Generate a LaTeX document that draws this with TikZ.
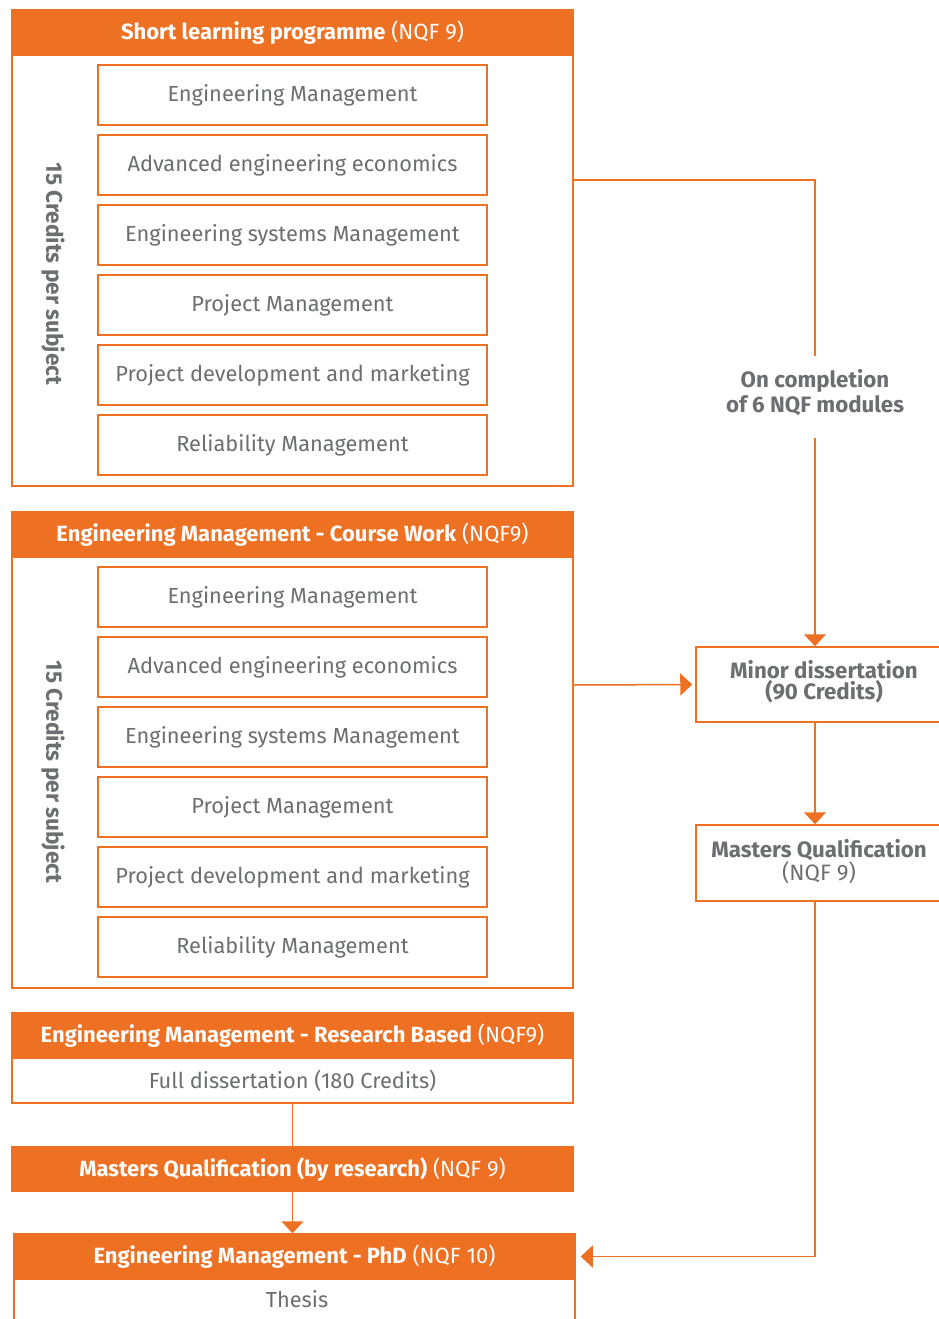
\documentclass[tikz,border=0pt]{standalone}
\usepackage{fontspec}
\setmainfont{Fira Sans}
\usetikzlibrary{arrows.meta}
\definecolor{orng}{HTML}{EE7023}
\definecolor{tgray}{HTML}{6D6E71}
\begin{document}
\begin{tikzpicture}[x=1pt,y=-1pt,
  frame/.style={draw=orng,line width=1.5pt,minimum width=561pt,inner sep=0pt},
  hdr/.style={fill=orng,draw=orng,line width=1.5pt,minimum width=561pt,minimum height=45pt,inner sep=0pt,text=white,font=\fontsize{22}{25}\selectfont},
  sub/.style={draw=orng,line width=1.5pt,minimum width=389pt,minimum height=60pt,inner sep=0pt,text=tgray,font=\fontsize{21.8}{25}\selectfont},
  plain/.style={text=tgray,font=\fontsize{21.8}{25}\selectfont,inner sep=0pt},
  side/.style={text=tgray,font=\bfseries\fontsize{22.3}{21}\selectfont,align=center,inner sep=0pt},
  rot/.style={text=tgray,font=\bfseries\fontsize{22.6}{25}\selectfont,rotate=-90,inner sep=0pt},
  rbox/.style={draw=orng,line width=1.5pt,minimum width=284pt,inner sep=0pt},
  conn/.style={draw=orng,line width=1.5pt},
  arr/.style={conn,-{Triangle[width=22pt,length=12pt]}}]
\useasboundingbox[fill=white] (0,0) rectangle (938,1319);

% --- block 1
\node[frame,minimum height=476pt] (f1) at (292.5,248) {};
\node[hdr] (h1) at (292.5,32.5) {{\bfseries Short learning programme} (NQF 9)};
\node[sub] (a1) at (292.5,95)  {Engineering Management};
\node[sub] (a2) at (292.5,165) {Advanced engineering economics};
\node[sub] (a3) at (292.5,235) {Engineering systems Management};
\node[sub] (a4) at (292.5,305) {Project Management};
\node[sub] (a5) at (292.5,375) {Project development and marketing};
\node[sub] (a6) at (292.5,445) {Reliability Management};
\node[rot] (r1) at (53,274) {15 Credits per subject};

% --- block 2
\node[frame,minimum height=476pt] (f2) at (292.5,750) {};
\node[hdr] (h2) at (292.5,534.5) {{\bfseries Engineering Management - Course Work} (NQF9)};
\node[sub] (b1) at (292.5,597) {Engineering Management};
\node[sub] (b2) at (292.5,667) {Advanced engineering economics};
\node[sub] (b3) at (292.5,737) {Engineering systems Management};
\node[sub] (b4) at (292.5,807) {Project Management};
\node[sub] (b5) at (292.5,877) {Project development and marketing};
\node[sub] (b6) at (292.5,947) {Reliability Management};
\node[rot] (r2) at (53,772) {15 Credits per subject};

% --- block 3
\node[frame,minimum height=45pt,text=tgray,font=\fontsize{21.8}{25}\selectfont] (fd) at (292.5,1080.5) {Full dissertation (180 Credits)};
\node[hdr] (h3) at (292.5,1035.5) {{\bfseries Engineering Management - Research Based} (NQF9)};

% --- masters by research
\node[hdr,minimum height=44pt] (mqr) at (292.5,1169) {{\bfseries Masters Qualification (by research)} (NQF 9)};

% --- PhD
\node[frame,minimum height=90pt] (phdb) at (294.5,1279) {};
\node[hdr] (phdh) at (294.5,1256.5) {{\bfseries Engineering Management - PhD} (NQF 10)};
\node[plain] (thesis) at (297,1299) {Thesis};

% --- right column
\node[side,font=\bfseries\fontsize{22.3}{25}\selectfont] (lbl) at (815,393) {On completion\\of 6 NQF modules};
\node[rbox,minimum height=75pt] (minor) at (838,684.5) {};
\node[side] (minort) at (824,682) {Minor dissertation\\(90 Credits)};
\node[rbox,minimum height=76pt] (mast) at (838,863) {};
\node[side] (mastt) at (819,862) {Masters Qualification\\{\mdseries (NQF 9)}};

% --- connectors
\draw[conn] ([yshift=68pt]f1.east) -| ([yshift=14pt]lbl.north);
\draw[arr] ([yshift=-22pt]lbl.south) -- (lbl.south |- minor.north);
\draw[arr,shorten >=3pt] ([yshift=65pt]f2.east) -- (minor.west);
\draw[arr] (lbl.south |- minor.south) -- (lbl.south |- mast.north);
\draw[arr,shorten >=5pt] (lbl.south |- mast.south) |- (phdh.east);
\draw[conn] (fd.south) -- (mqr.north);
\draw[arr] (mqr.south) -- (mqr.south |- phdh.north);
\end{tikzpicture}
\end{document}
